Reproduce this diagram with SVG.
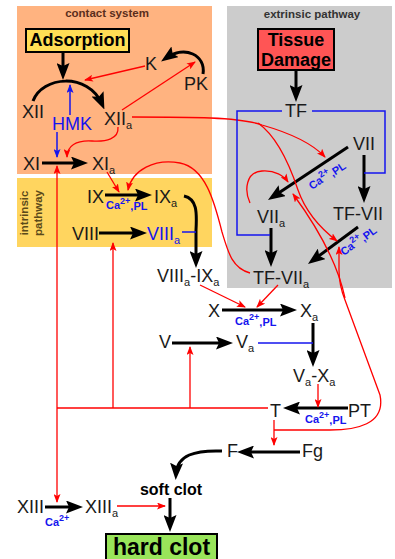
<svg xmlns="http://www.w3.org/2000/svg" width="395" height="559" viewBox="0 0 395 559">
<style>
.n{font-family:"Liberation Sans",Arial,sans-serif;font-size:18px;fill:#1a1a1a}
.s{font-size:11px}
.b{fill:#1515ee}
.ttl{font-family:"Liberation Sans",Arial,sans-serif;font-size:11.5px;font-weight:bold}
.ca{font-family:"Liberation Sans",Arial,sans-serif;font-size:11px;font-weight:bold;fill:#1515ee}
.bx{font-family:"Liberation Sans",Arial,sans-serif;font-weight:bold;fill:#000}
.k{fill:none;stroke:#000;stroke-width:3}
.r{fill:none;stroke:#ff0000;stroke-width:1.3}
.bl{fill:none;stroke:#1515ee;stroke-width:1.5}
</style>
<defs>
<marker id="ab" viewBox="0 0 17 13" markerWidth="17" markerHeight="13" refX="11" refY="6.5" orient="auto" markerUnits="userSpaceOnUse"><path d="M0,0 L17,6.5 L0,13 L3,6.5 z" fill="#000"/></marker>
<marker id="ar" viewBox="0 0 9 7" markerWidth="9" markerHeight="7" refX="8" refY="3.5" orient="auto" markerUnits="userSpaceOnUse"><path d="M0,0 L9,3.5 L0,7 L2,3.5 z" fill="#ff0000"/></marker>
<marker id="abl" viewBox="0 0 9 7" markerWidth="9" markerHeight="7" refX="8" refY="3.5" orient="auto" markerUnits="userSpaceOnUse"><path d="M0,0 L9,3.5 L0,7 L2,3.5 z" fill="#1515ee"/></marker>
</defs>

<g id="regions">
<rect x="17" y="6" width="195" height="168" fill="#ffb380"/>
<rect x="17" y="178" width="195" height="69" fill="#ffd55f"/>
<rect x="227" y="6" width="165" height="282" fill="#cccccc"/>
<text class="ttl" x="107" y="17" text-anchor="middle" fill="#5a2e1c">contact system</text>
<text class="ttl" x="312" y="18" text-anchor="middle" fill="#333" font-size="12.3">extrinsic pathway</text>
<text class="ttl" transform="translate(28,213) rotate(-90)" text-anchor="middle" fill="#5b4a1a">intrinsic</text>
<text class="ttl" transform="translate(42,213) rotate(-90)" text-anchor="middle" fill="#5b4a1a">pathway</text>
</g>

<g id="connectors">
<path class="k" d="M63,52 L63,74" marker-end="url(#ab)"/>
<path class="k" d="M33,101 C42,76 88,72 102,104" marker-end="url(#ab)"/>
<path class="k" d="M203,74 C206,55 185,45 166,58" marker-end="url(#ab)"/>
<path class="k" d="M42,163 L82,163" marker-end="url(#ab)"/>
<path class="k" d="M105,195 L146,195" marker-end="url(#ab)"/>
<path class="k" d="M99,233 L141,233" marker-end="url(#ab)"/>
<path class="k" d="M184,196 C197,199 197,212 196,230 L196,262" marker-end="url(#ab)"/>
<path class="k" d="M222,310 L291,310" marker-end="url(#ab)"/>
<path class="k" d="M172,343 L227,343" marker-end="url(#ab)"/>
<path class="k" d="M313,323 L313,361" marker-end="url(#ab)"/>
<path class="k" d="M348,408 L289,408" marker-end="url(#ab)"/>
<path class="k" d="M300,452 L243,452" marker-end="url(#ab)"/>
<path class="k" d="M222,451 C195,450 177,455 176,474" marker-end="url(#ab)"/>
<path class="k" d="M170,498 L170,526" marker-end="url(#ab)"/>
<path class="k" d="M45,507 L77,507" marker-end="url(#ab)"/>
<path class="k" d="M296,70 L296,96" marker-end="url(#ab)"/>
<path class="k" d="M348,147 L273,196.7" marker-end="url(#ab)"/>
<path class="k" d="M364,155 L364,197" marker-end="url(#ab)"/>
<path class="k" d="M271,228 L271,261" marker-end="url(#ab)"/>
<path class="k" d="M358,227 L312.8,260.4" marker-end="url(#ab)"/>
<path class="r" d="M145,66 L85,80" marker-end="url(#ar)"/>
<path class="r" d="M122,110 L195,62" marker-end="url(#ar)"/>
<path class="r" d="M118,127 C119,139 106,142 92,141 C76,140 67,146 67,157" marker-end="url(#ar)"/>
<path class="r" d="M132,117 C190,117 240,117 262,125 C290,133 312,143 325,157" marker-end="url(#ar)"/>
<path class="r" d="M258,123 C275,135 288,160 298,190 C305,210 320,228 337,241" marker-end="url(#ar)"/>
<path class="r" d="M107,172 L119,192" marker-end="url(#ar)"/>
<path class="r" d="M250,273 C232,268 228,252 222,232 C214,200 205,168 180,163 C155,158 132,170 128,190" marker-end="url(#ar)"/>
<path class="r" d="M250,203 C244,190 246,172 262,171 C275,170 284,176 288,182" marker-end="url(#ar)"/>
<path class="r" d="M200,285 L245,307" marker-end="url(#ar)"/>
<path class="r" d="M278,285 L257,307" marker-end="url(#ar)"/>
<path class="r" d="M318,384 L318,407" marker-end="url(#ar)"/>
<path class="r" d="M268,408 L57,408"/>
<path class="r" d="M57,408 L57,166" marker-end="url(#ar)"/>
<path class="r" d="M57,408 L57,502" marker-end="url(#ar)"/>
<path class="r" d="M113,408 L113,243" marker-end="url(#ar)"/>
<path class="r" d="M190,408 L190,347" marker-end="url(#ar)"/>
<path class="r" d="M274,420 L274,445" marker-end="url(#ar)"/>
<path class="r" d="M274,430 L330,430 C355,430 386,425 380,395 L345,300 C341,290 339,280 339,270 L339,247" marker-end="url(#ar)"/>
<path class="r" d="M345,298 C338,265 318,228 293,194" marker-end="url(#ar)"/>
<path class="r" d="M117,506 L165,506" marker-end="url(#ar)"/>
<path class="bl" d="M70,115 L70,85" marker-end="url(#abl)"/>
<path class="bl" d="M57,132 L57,157" marker-end="url(#abl)"/>
<path class="bl" d="M282,111 L237,111 L237,235 L270,235"/>
<path class="bl" d="M312,111 L385,111 L385,173 L364,173"/>
<path class="bl" d="M182,232 L196,232"/>
<path class="bl" d="M258,343 L313,343"/>
<text class="ca" x="106" y="209">Ca<tspan dy="-5" font-size="9">2+</tspan><tspan dy="6">,PL</tspan></text>
<text class="ca" x="235" y="325">Ca<tspan dy="-5" font-size="9">2+</tspan><tspan dy="6">,PL</tspan></text>
<text class="ca" x="305" y="423">Ca<tspan dy="-5" font-size="9">2+</tspan><tspan dy="6">,PL</tspan></text>
<text class="ca" x="45" y="526">Ca<tspan dy="-5" font-size="9">2+</tspan></text>
<text class="ca" transform="translate(312,190) rotate(-34)">Ca<tspan dy="-5" font-size="9">2+</tspan><tspan dy="6">,PL</tspan></text>
<text class="ca" transform="translate(344,256) rotate(-37)">Ca<tspan dy="-5" font-size="9">2+</tspan><tspan dy="6">,PL</tspan></text>
</g>

<g id="adsorption"><rect x="26" y="29" width="103" height="23" fill="#ffdd55" stroke="#000" stroke-width="2"/><text class="bx" x="77.5" y="46" font-size="18" text-anchor="middle">Adsorption</text></g>
<g id="tissue-damage"><rect x="258" y="29" width="76" height="41" fill="#ff5555" stroke="#000" stroke-width="2"/><text class="bx" x="296" y="46" font-size="18" text-anchor="middle">Tissue</text><text class="bx" x="296" y="66" font-size="18" text-anchor="middle">Damage</text></g>
<g id="hard-clot"><rect x="106" y="534" width="111" height="28" fill="#99e55a" stroke="#000" stroke-width="2"/><text class="bx" x="161.5" y="555" font-size="23" text-anchor="middle">hard clot</text></g>
<g id="soft-clot"><text class="bx" x="171" y="495" font-size="16" text-anchor="middle">soft clot</text></g>

<g id="XII"><text class="n" x="22" y="118">XII</text></g>
<g id="XIIa"><text class="n" x="104" y="125">XII<tspan class="s" dy="4">a</tspan></text></g>
<g id="K"><text class="n" x="145" y="70">K</text></g>
<g id="PK"><text class="n" x="184" y="90">PK</text></g>
<g id="HMK"><text class="n b" x="52" y="130" font-size="16">HMK</text></g>
<g id="XI"><text class="n" x="23" y="170">XI</text></g>
<g id="XIa"><text class="n" x="92" y="170">XI<tspan class="s" dy="4">a</tspan></text></g>
<g id="TF"><text class="n" x="285" y="117">TF</text></g>
<g id="VII"><text class="n" x="353" y="150">VII</text></g>
<g id="VIIa"><text class="n" x="257" y="223">VII<tspan class="s" dy="4">a</tspan></text></g>
<g id="TF-VII"><text class="n" x="333" y="220">TF-VII</text></g>
<g id="TF-VIIa"><text class="n" x="253" y="284">TF-VII<tspan class="s" dy="4">a</tspan></text></g>
<g id="IX"><text class="n" x="87" y="203">IX</text></g>
<g id="IXa"><text class="n" x="154" y="203">IX<tspan class="s" dy="4">a</tspan></text></g>
<g id="VIII"><text class="n" x="72" y="240">VIII</text></g>
<g id="VIIIa"><text class="n b" x="147" y="240">VIII<tspan class="s" dy="4">a</tspan></text></g>
<g id="VIIIa-IXa"><text class="n" x="157" y="282">VIII<tspan class="s" dy="4">a</tspan><tspan dy="-4">-IX</tspan><tspan class="s" dy="4">a</tspan></text></g>
<g id="X"><text class="n" x="208" y="317">X</text></g>
<g id="Xa"><text class="n" x="300" y="317">X<tspan class="s" dy="4">a</tspan></text></g>
<g id="V"><text class="n" x="159" y="348">V</text></g>
<g id="Va"><text class="n" x="236" y="348">V<tspan class="s" dy="4">a</tspan></text></g>
<g id="Va-Xa"><text class="n" x="293" y="382">V<tspan class="s" dy="4">a</tspan><tspan dy="-4">-X</tspan><tspan class="s" dy="4">a</tspan></text></g>
<g id="T"><text class="n" x="270" y="417">T</text></g>
<g id="PT"><text class="n" x="348" y="417">PT</text></g>
<g id="F"><text class="n" x="227" y="457">F</text></g>
<g id="Fg"><text class="n" x="302" y="457">Fg</text></g>
<g id="XIII"><text class="n" x="17" y="513">XIII</text></g>
<g id="XIIIa"><text class="n" x="85" y="513">XIII<tspan class="s" dy="4">a</tspan></text></g>
</svg>
